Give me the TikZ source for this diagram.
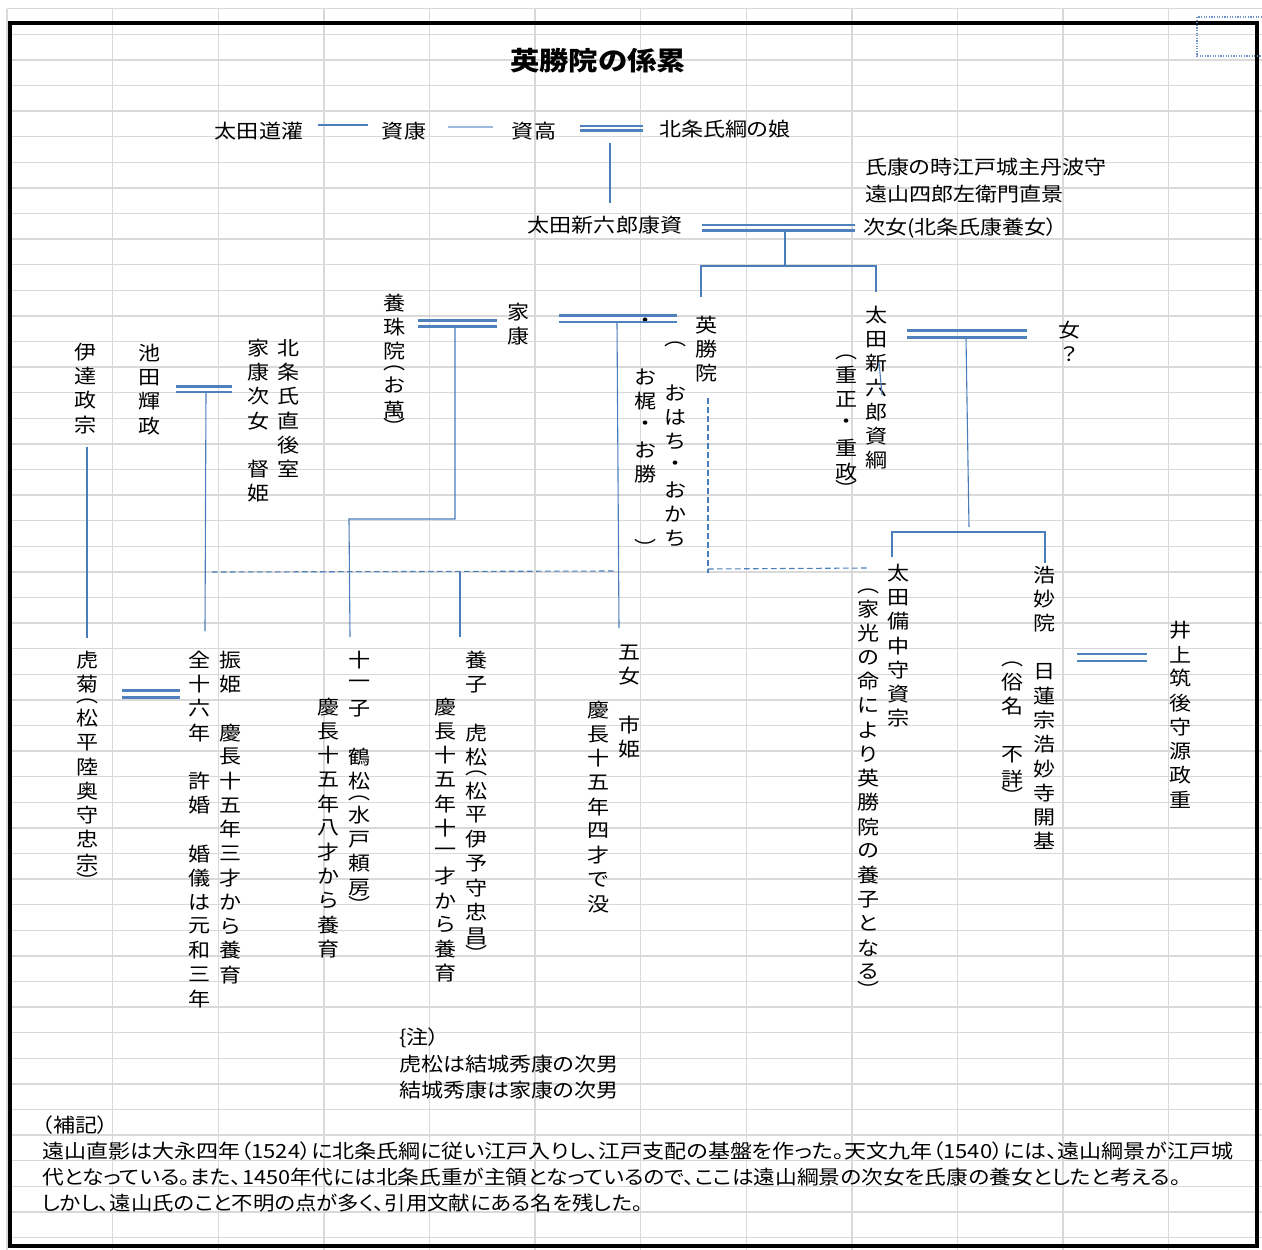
\documentclass[tikz,border=0pt]{standalone}
\usepackage{fontspec}
\newfontfamily\jpfam[FakeStretch=1.13,RawFeature=+palt]{Noto Sans CJK JP}
\newfontfamily\jpvfam[FakeStretch=1.13]{Noto Sans CJK JP}
\newcommand\jph{\jpfam\fontsize{19.5}{24}\selectfont}
\newcommand\jpv{\jpvfam\fontsize{19.5}{24}\selectfont}
\newcommand\jpt{\jpfam\bfseries\fontsize{26}{30}\selectfont}
\definecolor{gridc}{HTML}{D9D9D9}
\definecolor{lnc}{HTML}{4A7DBA}
\definecolor{lnl}{HTML}{9DB9DE}
\definecolor{dblc}{HTML}{4F81BD}
\definecolor{dotc}{HTML}{6F93C8}
\makeatletter
\newdimen\vpitch \vpitch=24.2pt
\newdimen\vppitch \vppitch=9.8pt
\def\vlp{︵}\def\vrp{︶}
\def\vtbox#1{\vbox to#1{\vss\hbox to1.2em{\hss\vtc\hss}\vss}}
\def\vtcell{\ifx\vtc\vlp\vtbox\vppitch\else\ifx\vtc\vrp\vtbox\vppitch\else\vtbox\vpitch\fi\fi}
\newcommand\vt[1]{\vbox{\offinterlineskip\@tfor\vtc:=#1\do{\vtcell}}}
\makeatother
\newcommand\dline[3]{\draw[dl] ([yshift=#3]#1) -- ([yshift=#3]#2); \draw[dl] ([yshift=-#3]#1) -- ([yshift=-#3]#2);}
\begin{document}
\begin{tikzpicture}[x=1pt,y=-1pt,
  gridl/.style={draw=gridc,line width=1.4pt},
  ln/.style={draw=lnc,line width=1.1pt},
  lnlight/.style={draw=lnl,line width=1.5pt},
  dl/.style={draw=dblc,line width=2.6pt},
  dsh/.style={draw=lnc,line width=1.1pt,dash pattern=on 5.5pt off 3.5pt},
  ht/.style={inner sep=0pt,outer sep=0pt,font=\jph,anchor=base},
  htw/.style={ht,anchor=base west},
  vt/.style={anchor=north,inner sep=0pt,outer sep=0pt,font=\jpv}]
\useasboundingbox (0,0) rectangle (1262,1250);
\fill[white] (0,0) rectangle (1262,1250);
% spreadsheet grid
\foreach \i in {0,...,11} \draw[gridl] ({7+105.6*\i},9) -- ({7+105.6*\i},1250);
\foreach \j in {0,...,48} \draw[gridl] (7,{8.7+25.6*\j}) -- (1262,{8.7+25.6*\j});
% frame
\draw[line width=3.6pt] (10,23) rectangle (1257,1246);
\draw[draw=dotc,line width=1.2pt,dash pattern=on 1.2pt off 1.4pt] (1197,17) rectangle (1275,56);
% title
\node[ht,font=\jpt] (title) at (598,70.5) {英勝院の係累};
% horizontal names
\node[ht] (doukan) at (259,138.5) {太田道灌};
\node[ht] (sukeyasu) at (404,138.5) {資康};
\node[ht] (suketaka) at (534,138.5) {資高};
\node[htw] (ujitsuna) at (659,136.5) {北条氏綱の娘};
\node[htw] (note1) at (865,174) {氏康の時江戸城主丹波守};
\node[htw] (note2) at (865,201.5) {遠山四郎左衛門直景};
\node[ht] (yasusuke) at (605,232.5) {太田新六郎康資};
\node[htw] (jijo) at (863,234.2) {次女(北条氏康養女）};
% vertical names
\node[vt] (date) at (86,340) {\vt{伊達政宗}};
\node[vt] (ikeda) at (150,341) {\vt{池田輝政}};
\node[vt] (tokuhime) at (259,336) {\vt{家康次女　督姫}};
\node[vt] (ujinao) at (289,336) {\vt{北条氏直後室}};
\node[vt] (yoju) at (395,291) {\vt{養珠院︵お萬︶}};
\node[vt] (ieyasu) at (519,300) {\vt{家康}};
\node[vt] (eisho) at (707,313) {\vt{英勝院}};
\node[vt] (oparen) at (676,340) {\vt{︵}};
\node[vt] (ohachi) at (676,381) {\vt{おはち・おかち}};
\node[vt] (odot) at (646,311) {\vt{・}};
\node[vt] (okaji) at (646,365) {\vt{お梶・お勝}};
\node[vt] (cparen) at (646,542) {\vt{︶}};
\node[vt] (sukezuna) at (877,303) {\vt{太田新六郎資綱}};
\node[vt] (shigemasa) at (847,353) {\vt{︵重正・重政︶}};
\node[vt] (onna) at (1070,318) {\vt{女？}};
\node[vt] (sukemune) at (899,561) {\vt{太田備中守資宗}};
\node[vt] (iemitsu) at (869,587) {\vt{︵家光の命により英勝院の養子となる︶}};
\node[vt] (komyo) at (1045,563) {\vt{浩妙院　日蓮宗浩妙寺開基}};
\node[vt] (zokumyo) at (1013,660) {\vt{︵俗名　不詳︶}};
\node[vt] (inoue) at (1181,618) {\vt{井上筑後守源政重}};
\node[vt] (toragiku) at (88,648) {\vt{虎菊︵松平陸奥守忠宗︶}};
\node[vt] (kyokon) at (200,648) {\vt{全十六年　許婚　婚儀は元和三年}};
\node[vt] (furihime) at (231,648) {\vt{振姫　慶長十五年三才から養育}};
\node[vt] (tsurumatsu) at (360,648) {\vt{十一子　鶴松︵水戸頼房︶}};
\node[vt] (tsuruiku) at (329,695) {\vt{慶長十五年八才から養育}};
\node[vt] (toramatsu) at (477,648) {\vt{養子　虎松︵松平伊予守忠昌︶}};
\node[vt] (toraiku) at (446,695) {\vt{慶長十五年十一才から養育}};
\node[vt] (ichihime) at (630,640) {\vt{五女　市姫}};
\node[vt] (ichibotsu) at (599,698) {\vt{慶長十五年四才で没}};
% notes
\node[htw] (chu) at (399,1044) {\{注）};
\node[htw] (chu1) at (399,1071) {虎松は結城秀康の次男};
\node[htw] (chu2) at (399,1097) {結城秀康は家康の次男};
\node[htw] (hoki) at (42,1132) {（補記）};
\node[htw] (b1) at (42,1158) {遠山直影は大永四年（1524）に北条氏綱に従い江戸入りし、江戸支配の基盤を作った。天文九年（1540）には、遠山綱景が江戸城};
\node[htw] (b2) at (42,1184.7) {\scalebox{0.985}[1]{代となっている。また、1450年代には北条氏重が主領となっているので、ここは遠山綱景の次女を氏康の養女としたと考える。}};
\node[htw] (b3) at (42,1210.7) {\scalebox{0.972}[1]{しかし、遠山氏のこと不明の点が多く、引用文献にある名を残した。}};
% connector points
\coordinate (l1a) at (318,125); \coordinate (l1b) at (368,125);
\coordinate (l2a) at (448,127); \coordinate (l2b) at (493,127);
\coordinate (d1a) at (580,128.4); \coordinate (d1b) at (643,128.4);
\coordinate (v1a) at (610,143); \coordinate (v1b) at (610,203);
\coordinate (d2a) at (702,227.8); \coordinate (d2b) at (855,227.8);
\coordinate (v2a) at (785,230.5); \coordinate (v2b) at (785,266);
\coordinate (h2a) at (701,266); \coordinate (h2b) at (876,266);
\coordinate (v3b) at (701,297); \coordinate (v4b) at (876,292);
\coordinate (d3a) at (176,389); \coordinate (d3b) at (232,389);
\coordinate (v5a) at (206,391.5); \coordinate (v5b) at (205,631);
\coordinate (d4a) at (418,323.5); \coordinate (d4b) at (497,323.5);
\coordinate (v6a) at (455,326.5); \coordinate (v6b) at (455,519);
\coordinate (h6b) at (349,519); \coordinate (v7b) at (350,637);
\coordinate (d5a) at (559,318.7); \coordinate (d5b) at (677,318.7);
\coordinate (v8a) at (617,322); \coordinate (v8b) at (619,628);
\coordinate (ds1a) at (212,572); \coordinate (ds1b) at (617,571);
\coordinate (v9a) at (460,572); \coordinate (v9b) at (460,637);
\coordinate (ds2a) at (708,398); \coordinate (ds2b) at (708,573);
\coordinate (ds3a) at (708,569); \coordinate (ds3b) at (867,568);
\coordinate (d6a) at (907,334); \coordinate (d6b) at (1027,334);
\coordinate (v10a) at (966,337.5); \coordinate (v10b) at (969,527);
\coordinate (h10a) at (892,532); \coordinate (h10b) at (1045,532);
\coordinate (v11b) at (892,557); \coordinate (v12b) at (1045,563);
\coordinate (arta) at (879,362); \coordinate (artb) at (882,395);
\coordinate (d7a) at (122,694); \coordinate (d7b) at (180,694);
\coordinate (d8a) at (1077,657.5); \coordinate (d8b) at (1147,657.5);
\coordinate (v13a) at (87,447); \coordinate (v13b) at (87,638);
% connectors
\draw[ln] (l1a) -- (l1b);
\draw[lnlight] (l2a) -- (l2b);
\dline{d1a}{d1b}{2.3pt}
\draw[ln] (v1a) -- (v1b);
\dline{d2a}{d2b}{2.8pt}
\draw[ln] (v2a) -- (v2b);
\draw[ln] (v3b) -- (h2a) -- (h2b) -- (v4b);
\dline{d3a}{d3b}{2.8pt}
\draw[ln] (v5a) -- (v5b);
\dline{d4a}{d4b}{3pt}
\draw[ln] (v6a) -- (v6b) -- (h6b) -- (v7b);
\dline{d5a}{d5b}{3.2pt}
\draw[ln] (v8a) -- (v8b);
\draw[dsh] (ds1a) -- (ds1b);
\draw[ln] (v9a) -- (v9b);
\draw[dsh] (ds2a) -- (ds2b);
\draw[dsh] (ds3a) -- (ds3b);
\dline{d6a}{d6b}{3.5pt}
\draw[ln] (v10a) -- (v10b);
\draw[ln] (v11b) -- (h10a) -- (h10b) -- (v12b);
\draw[ln] (arta) -- (artb);
\dline{d7a}{d7b}{3.5pt}
\dline{d8a}{d8b}{3.5pt}
\draw[ln] (v13a) -- (v13b);
\end{tikzpicture}
\end{document}
